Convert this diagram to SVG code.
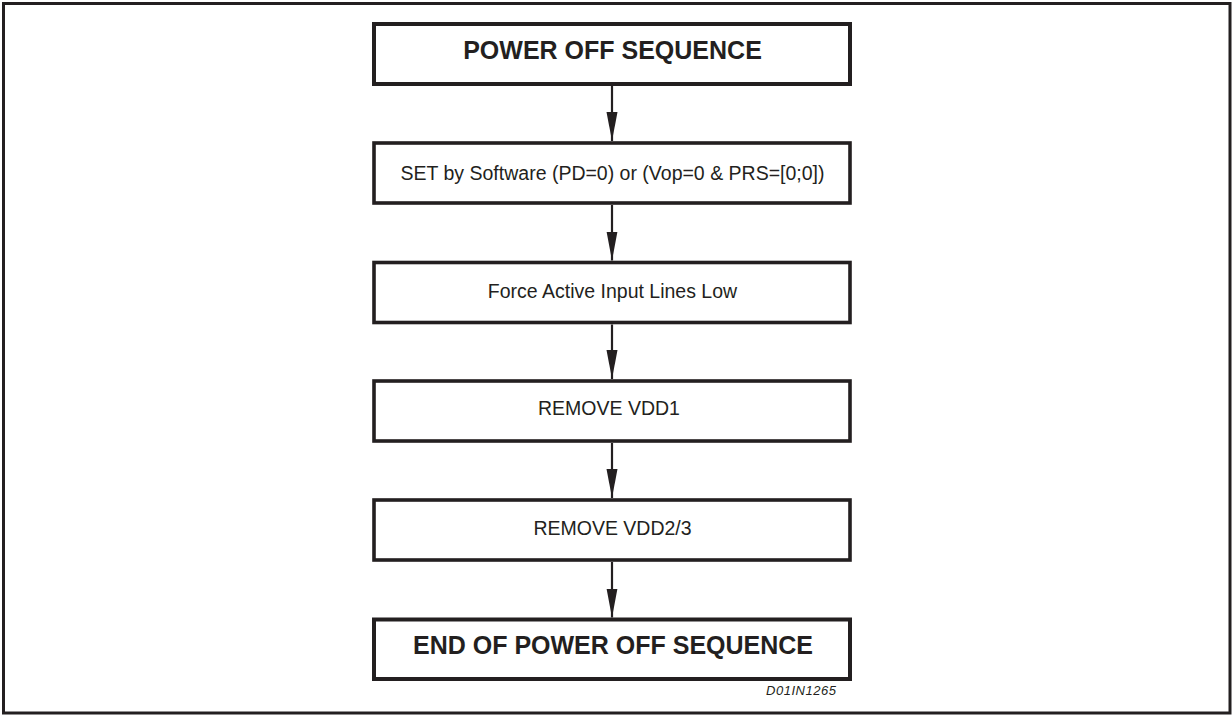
<svg xmlns="http://www.w3.org/2000/svg" width="1232" height="715" viewBox="0 0 1232 715">
  <style>
    .frame { fill: #ffffff; stroke: #231f20; stroke-width: 3; }
    .box { fill: #ffffff; stroke: #231f20; stroke-width: 3.6; }
    .box-bold { fill: #ffffff; stroke: #231f20; stroke-width: 4; }
    .t { font-family: "Liberation Sans", Arial, sans-serif; font-size: 19.5px; fill: #231f20; text-anchor: middle; }
    .tb { font-family: "Liberation Sans", Arial, sans-serif; font-size: 25px; font-weight: bold; fill: #231f20; text-anchor: middle; }
    .ref { font-family: "Liberation Sans", Arial, sans-serif; font-size: 13px; font-style: italic; fill: #231f20; }
    .conn { stroke: #231f20; stroke-width: 2.2; fill: none; marker-end: url(#arrow); }
  </style>
  <defs>
    <marker id="arrow" markerUnits="userSpaceOnUse" markerWidth="30" markerHeight="12" refX="29" refY="5.5" orient="auto">
      <path d="M0,0 L29,5.5 L0,11 Z" fill="#231f20"/>
    </marker>
  </defs>
  <rect class="frame" x="3.5" y="3.5" width="1226.5" height="709.5"/>

  <g id="connectors">
    <line class="conn" x1="612" y1="86" x2="612" y2="141"/>
    <line class="conn" x1="612" y1="205" x2="612" y2="260.5"/>
    <line class="conn" x1="612" y1="324.5" x2="612" y2="379"/>
    <line class="conn" x1="612" y1="443" x2="612" y2="498"/>
    <line class="conn" x1="612" y1="562" x2="612" y2="617.5"/>
  </g>

  <g id="node-start">
    <rect class="box-bold" x="374" y="24" width="476" height="60"/>
    <text class="tb" x="612.5" y="58.5">POWER OFF SEQUENCE</text>
  </g>
  <g id="node-set">
    <rect class="box" x="374" y="143" width="476" height="60"/>
    <text class="t" x="612.5" y="179.5">SET by Software (PD=0) or (Vop=0 &amp; PRS=[0;0])</text>
  </g>
  <g id="node-force">
    <rect class="box" x="374" y="262.5" width="476" height="60"/>
    <text class="t" x="612.5" y="297.5">Force Active Input Lines Low</text>
  </g>
  <g id="node-vdd1">
    <rect class="box" x="374" y="381" width="476" height="60"/>
    <text class="t" x="609" y="415">REMOVE VDD1</text>
  </g>
  <g id="node-vdd23">
    <rect class="box" x="374" y="500" width="476" height="60"/>
    <text class="t" x="612.5" y="535">REMOVE VDD2/3</text>
  </g>
  <g id="node-end">
    <rect class="box-bold" x="374" y="619.5" width="476" height="59.5"/>
    <text class="tb" x="613" y="653.5">END OF POWER OFF SEQUENCE</text>
  </g>
  <text class="ref" x="766" y="695" textLength="70">D01IN1265</text>
</svg>
